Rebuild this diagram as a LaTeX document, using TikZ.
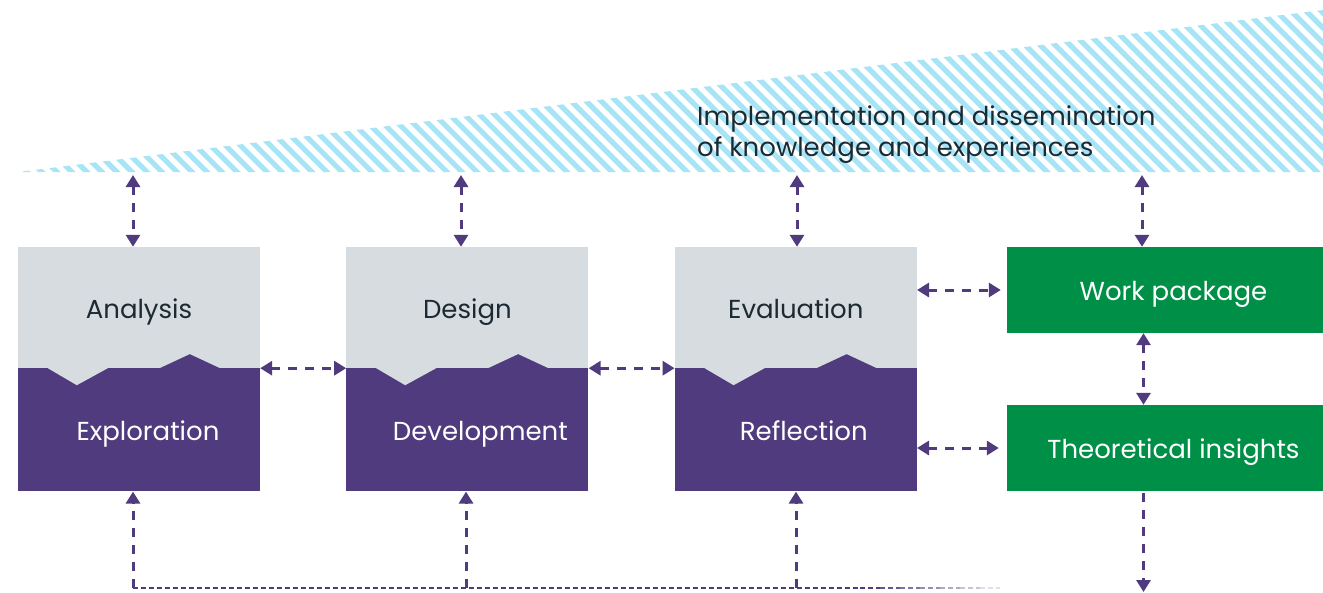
\documentclass[tikz,border=0pt]{standalone}
\usepackage{fontspec}
\setmainfont{Poppins}
\usetikzlibrary{arrows.meta,positioning}
\definecolor{boxGray}{HTML}{D6DCE0}
\definecolor{boxPurple}{HTML}{4F3B7D}
\definecolor{boxGreen}{HTML}{008F47}
\definecolor{hatchBlue}{HTML}{A6E4F6}
\definecolor{textDark}{HTML}{1B2A33}
\newcommand{\boxFont}{\fontsize{26}{31}\selectfont}
\newcommand{\phaseNotch}[1]{%%
  %% The gray notch cut into the lower box.
  \fill[boxGray,shift={(#1.north west)}] (30,0) -- (59,17) -- (90,0) -- cycle;
  %% The purple peak reaching into the upper box.
  \fill[boxPurple,shift={(#1.north west)}] (142,0) -- (172,-14) -- (202,0) -- cycle;
}

\begin{document}
\begin{tikzpicture}[x=1pt,y=-1pt,%%
  grayBox/.style={fill=boxGray,text=textDark,minimum width=242pt,minimum height=121pt,inner sep=0pt,text height=21pt,text depth=0pt,font=\boxFont},%%
  purpleBox/.style={fill=boxPurple,minimum width=242pt,minimum height=123pt,inner sep=0pt},%%
  purpleText/.style={text=white,inner sep=0pt,text height=21pt,text depth=0pt,font=\boxFont},%%
  greenBox/.style={fill=boxGreen,text=white,minimum width=333pt,minimum height=86pt,inner sep=0pt,text height=21pt,text depth=0pt,font=\boxFont},%%
  bandText/.style={text=textDark,align=left,inner sep=0pt,font=\fontsize{26}{31}\selectfont},%%
  hatchStyle/.style={hatchBlue,line width=5.3pt},%%
  arrowStyle/.style={{Triangle[length=12pt,width=14pt]}-{Triangle[length=12pt,width=14pt]},dash pattern=on 9pt off 8pt,line width=3pt,boxPurple},%%
  upArrowStyle/.style={-{Triangle[length=12pt,width=14pt]},dash pattern=on 9pt off 8pt,line width=3pt,boxPurple},%%
  thinDash/.style={dash pattern=on 5pt off 3pt,line width=1.2pt,boxPurple}
]
\useasboundingbox (0,0) rectangle (1323,592);
%%
%% The hatched band of implementation and dissemination.
\begin{scope}
  \clip (18,172) -- (1323,10) -- (1323,172) -- cycle;
  \foreach \hx in {-180,-165,...,1335} \draw[hatchStyle] (\hx,-5) -- ++(190,190);
\end{scope}
\node[bandText,anchor=north west] (bandLabel) at (697,106) {Implementation and dissemination\\of knowledge and experiences};
%%
%% The three phases.
\node[grayBox] (ana) at (139,307.5) {Analysis};
\node[purpleBox,below=0pt of ana] (exp) {};
\node[grayBox,right=86pt of ana] (des) {Design};
\node[purpleBox,below=0pt of des] (dev) {};
\node[grayBox,right=86pt of des] (eva) {Evaluation};
\node[purpleBox,below=0pt of eva] (ref) {};
\phaseNotch{exp}
\phaseNotch{dev}
\phaseNotch{ref}
\node[purpleText] (expText) at ([xshift=9pt]exp.center) {Exploration};
\node[purpleText] (devText) at ([xshift=13pt]dev.center) {Development};
\node[purpleText] (refText) at ([xshift=8pt]ref.center) {Reflection};
%%
%% The outcomes.
\node[greenBox] (wp) at (1173.5,290) {Work package};
\node[greenBox] (ti) at (1173.5,448) {Theoretical insights};
%%
%% Free ends of the connectors.
\coordinate (topA) at (133,175);
\coordinate (topB) at (461,175);
\coordinate (topC) at (797,175);
\coordinate (topD) at (1142,175);
\coordinate (botA) at (133,588);
\coordinate (botB) at (466,588);
\coordinate (botC) at (796,588);
\coordinate (botFade) at (860,588);
\coordinate (tiEnd) at (1143.5,592);
%%
%% Links to the hatched band.
\draw[arrowStyle] (topA) -- (topA |- ana.north);
\draw[arrowStyle] (topB) -- (topB |- des.north);
\draw[arrowStyle] (topC) -- (topC |- eva.north);
\draw[arrowStyle] (topD) -- (topD |- wp.north);
%%
%% Links between the phases and the outcomes.
\draw[arrowStyle] (ana.south east) -- (des.south west);
\draw[arrowStyle] (des.south east) -- (eva.south west);
\draw[arrowStyle,shorten >=6pt] (eva.east |- wp.west) -- (wp.west);
\draw[arrowStyle,shorten >=8pt] (ref.east |- ti.west) -- (ti.west);
\draw[arrowStyle] ([xshift=-30pt]wp.south) -- ([xshift=-30pt]ti.north);
\draw[upArrowStyle,shorten <=2pt] ([xshift=-30pt]ti.south) -- (tiEnd);
%%
%% The feedback loop below.
\draw[upArrowStyle] (botA) -- (botA |- exp.south);
\draw[upArrowStyle] (botB) -- (botB |- dev.south);
\draw[upArrowStyle] (botC) -- (botC |- ref.south);
\draw[thinDash] (botA) -- (botFade);
\foreach \k in {0,...,6} \draw[thinDash,draw opacity={1-0.14*\k}] ([xshift=20*\k pt]botFade) -- ++(20,0);
\end{tikzpicture}
\end{document}
